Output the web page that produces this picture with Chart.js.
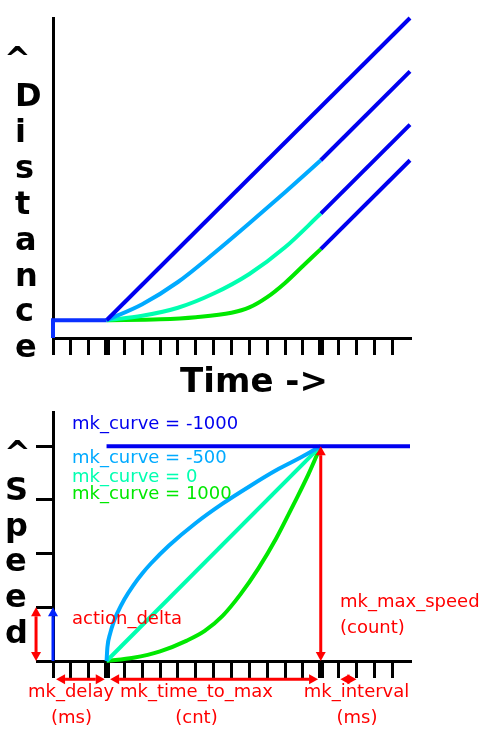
<!DOCTYPE html>
<html>
<head>
<meta charset="utf-8">
<script src="https://cdn.jsdelivr.net/npm/chart.js@4.4.0/dist/chart.umd.min.js"></script>
<style>
  html, body { margin: 0; padding: 0; background: #fff; }
  #wrap { position: relative; width: 500px; height: 750px; }
  #dist { position: absolute; left: 0; top: 0; }
  #speed { position: absolute; left: 0; top: 400px; }
</style>
</head>
<body>
<div id="wrap">
  <canvas id="dist" width="500" height="400"></canvas>
  <canvas id="speed" width="500" height="350"></canvas>
</div>
<script>
// time axis, in key repeat intervals
var timeTicks = [0, 1, 2, 3, 4, 5, 6, 7, 8, 9, 10, 11, 12, 13, 14, 15, 16, 17, 18, 19];
var mkDelay = 3;
var mkTimeToMax = 15;

// distance curves [time, distance]
var distIdle = [[0, 0], [0, 1], [3, 1]];
var distM1000 = [[3, 1], [20, 18]];
var distM500 = [[3, 1], [5, 1.9], [7, 3.15], [9, 4.75], [11, 6.45], [13, 8.2], [15, 10]];
var distM500Max = [[15, 10], [20, 15]];
var dist0 = [[3, 1], [5, 1.25], [7, 1.7], [9, 2.5], [11, 3.6], [13, 5.1], [15, 7]];
var dist0Max = [[15, 7], [20, 12]];
var dist1000 = [[3, 1], [6, 1.05], [8, 1.17], [10, 1.42], [11, 1.72], [12, 2.3], [13, 3.1], [14, 4.05], [15, 5]];
var dist1000Max = [[15, 5], [20, 10]];

// speed curves [time, speed]
var speedTicks = [0, 1, 2, 3, 4];
var actionDelta = 1;
var mkMaxSpeed = 4;
var speedM1000 = [[3, 4], [20, 4]];
var speedM500 = [[3, 0], [3.05, 0.26], [3.2, 0.51], [3.4, 0.73], [3.6, 0.89], [4, 1.15], [4.5, 1.41], [5, 1.63], [5.5, 1.82], [6.5, 2.15], [8, 2.57], [9.5, 2.93], [11, 3.25], [12.5, 3.55], [14, 3.81], [15, 4]];
var speed0 = [[3, 0], [15, 4]];
var speed1000 = [[3, 0], [4.5, 0.06], [6, 0.18], [7.5, 0.38], [8.5, 0.56], [9.5, 0.84], [10.5, 1.24], [11.5, 1.72], [12.5, 2.28], [13.5, 2.93], [14.3, 3.47], [15, 4]];

var BLUE = '#0000f0', IDLE = '#0a30ff', LBLUE = '#00aaff', CYAN = '#00ffb0', GREEN = '#00e800', RED = '#ff0000';
var FONT = '"DejaVu Sans", sans-serif';

function pts(a) {
    return a.map(function (p) { return {x: p[0], y: p[1]}; });
}

// curved series get a monotone spline, straight ones stay straight
function series(a, color, curved) {
    var ds = {data: pts(a), borderColor: color, clip: false, tension: 0};
    if (curved) ds.cubicInterpolationMode = 'monotone';
    return ds;
}

function tickWidth(ctx) {
    if (ctx.tick && (ctx.tick.value === mkDelay || ctx.tick.value === mkTimeToMax)) return 6;
    return 3;
}

function timeScale() {
    return {
        type: 'linear', min: 0, max: 20,
        afterBuildTicks: function (s) { s.ticks = timeTicks.map(function (v) { return {value: v}; }); },
        afterFit: function (s) { s.height = 17; },
        grid: {drawOnChartArea: false, tickLength: 17, color: '#000', lineWidth: tickWidth},
        border: {color: '#000', width: 3},
        ticks: {display: false}
    };
}

function baseOptions(padding, yScale) {
    return {
        responsive: false,
        animation: false,
        events: [],
        layout: {padding: padding},
        plugins: {legend: {display: false}, tooltip: {enabled: false}},
        elements: {
            point: {radius: 0},
            line: {borderWidth: 4, borderCapStyle: 'butt'}
        },
        scales: {x: timeScale(), y: yScale}
    };
}

function stackText(ctx, chars, x, y0, step) {
    ctx.font = 'bold 32px ' + FONT;
    ctx.fillStyle = '#000';
    ctx.textAlign = 'left';
    ctx.textBaseline = 'alphabetic';
    for (var i = 0; i < chars.length; i++) {
        ctx.fillText(chars[i], x, y0 + step * i);
    }
}

function label(ctx, text, x, y, color, align) {
    ctx.font = '18px ' + FONT;
    ctx.fillStyle = color;
    ctx.textAlign = align || 'left';
    ctx.textBaseline = 'alphabetic';
    ctx.fillText(text, x, y);
}

function head(ctx, x, y, ang, len, half) {
    ctx.beginPath();
    ctx.moveTo(x, y);
    ctx.lineTo(x - len * Math.cos(ang) + half * Math.sin(ang), y - len * Math.sin(ang) - half * Math.cos(ang));
    ctx.lineTo(x - len * Math.cos(ang) - half * Math.sin(ang), y - len * Math.sin(ang) + half * Math.cos(ang));
    ctx.closePath();
    ctx.fill();
}

// arrow between two points given in data units
function arrow(chart, a, color, both) {
    var sx = chart.scales.x, sy = chart.scales.y, ctx = chart.ctx;
    var x1 = sx.getPixelForValue(a[0]), y1 = sy.getPixelForValue(a[1]);
    var x2 = sx.getPixelForValue(a[2]), y2 = sy.getPixelForValue(a[3]);
    var ang = Math.atan2(y2 - y1, x2 - x1);
    var len = 9, half = 5;
    ctx.save();
    ctx.strokeStyle = color;
    ctx.fillStyle = color;
    ctx.lineWidth = 3;
    ctx.beginPath();
    ctx.moveTo(x1 + (both ? len * Math.cos(ang) : 0), y1 + (both ? len * Math.sin(ang) : 0));
    ctx.lineTo(x2 - len * Math.cos(ang), y2 - len * Math.sin(ang));
    ctx.stroke();
    head(ctx, x2, y2, ang, len, half);
    if (both) head(ctx, x1, y1, ang + Math.PI, len, half);
    ctx.restore();
}

// ---- distance chart ----
new Chart(document.getElementById('dist'), {
    type: 'line',
    data: {
        datasets: [
            series(distIdle, IDLE),
            series(distM1000, BLUE),
            series(distM500, LBLUE, true),
            series(distM500Max, BLUE),
            series(dist0, CYAN, true),
            series(dist0Max, BLUE),
            series(dist1000, GREEN, true),
            series(dist1000Max, BLUE)
        ]
    },
    options: baseOptions({left: 53, right: 90, top: 18, bottom: 45}, {
        type: 'linear', min: 0, max: 18,
        afterFit: function (s) { s.width = 0; },
        grid: {display: false},
        border: {color: '#000', width: 3},
        ticks: {display: false}
    }),
    plugins: [{
        id: 'distText',
        afterDraw: function (chart) {
            var ctx = chart.ctx;
            ctx.save();
            stackText(ctx, ['^'], 4, 70, 0);
            stackText(ctx, 'Distance'.split(''), 15, 106, 35.9);
            ctx.font = 'bold 34px ' + FONT;
            ctx.textAlign = 'center';
            ctx.fillText('Time ->', 254, 392);
            ctx.restore();
        }
    }]
});

// ---- speed chart ----
var speedArrows = [
    {p: [15, 0, 15, mkMaxSpeed], color: RED, both: true},
    {p: [-0.95, 0, -0.95, actionDelta], color: RED, both: true},
    {p: [0, 0, 0, actionDelta], color: '#0022ff', both: false},
    {p: [0.17, -0.34, 2.9, -0.34], color: RED, both: true},
    {p: [3.2, -0.34, 14.85, -0.34], color: RED, both: true},
    {p: [16.1, -0.34, 17.0, -0.34], color: RED, both: true}
];

new Chart(document.getElementById('speed'), {
    type: 'line',
    data: {
        datasets: [
            series(speedM1000, BLUE),
            series(speedM500, LBLUE, true),
            series(speed0, CYAN),
            series(speed1000, GREEN, true)
        ]
    },
    options: baseOptions({left: 36, right: 90, top: 12, bottom: 72}, {
        type: 'linear', min: 0, max: 4.636,
        afterBuildTicks: function (s) { s.ticks = speedTicks.map(function (v) { return {value: v}; }); },
        afterFit: function (s) { s.width = 17; },
        grid: {drawOnChartArea: false, tickLength: 17, color: '#000', lineWidth: 3},
        border: {color: '#000', width: 3},
        ticks: {display: false}
    }),
    plugins: [{
        id: 'speedNotes',
        afterDatasetsDraw: function (chart) {
            speedArrows.forEach(function (a) { arrow(chart, a.p, a.color, a.both); });
        },
        afterDraw: function (chart) {
            var ctx = chart.ctx;
            ctx.save();
            stackText(ctx, ['^'], 4, 64, 0);
            stackText(ctx, 'Speed'.split(''), 5, 100, 35.7);
            label(ctx, 'mk_curve = -1000', 72, 29, '#0000ee');
            label(ctx, 'mk_curve = -500', 72, 63, LBLUE);
            label(ctx, 'mk_curve = 0', 72, 82, CYAN);
            label(ctx, 'mk_curve = 1000', 72, 99, GREEN);
            label(ctx, 'action_delta', 72, 224, RED);
            label(ctx, 'mk_max_speed', 340, 207, RED);
            label(ctx, '(count)', 340, 233, RED);
            label(ctx, 'mk_delay', 71, 297, RED, 'center');
            label(ctx, '(ms)', 71.5, 323, RED, 'center');
            label(ctx, 'mk_time_to_max', 196.5, 297, RED, 'center');
            label(ctx, '(cnt)', 196.5, 323, RED, 'center');
            label(ctx, 'mk_interval', 356.5, 297, RED, 'center');
            label(ctx, '(ms)', 357, 323, RED, 'center');
            ctx.restore();
        }
    }]
});
</script>
</body>
</html>
